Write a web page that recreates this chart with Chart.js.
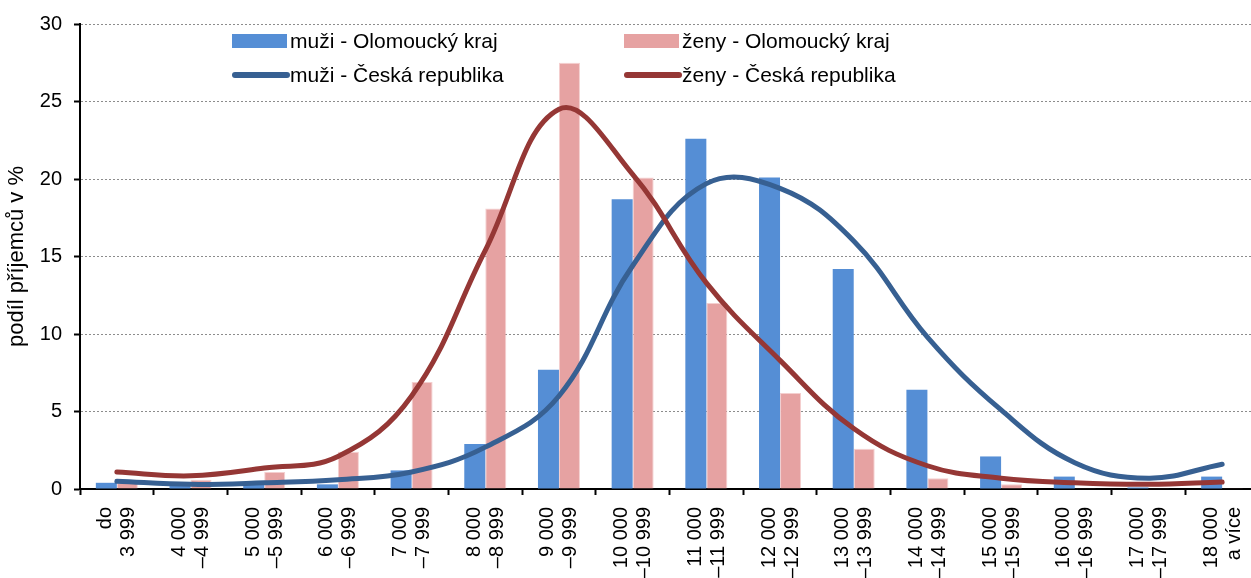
<!DOCTYPE html>
<html><head><meta charset="utf-8">
<script src="https://cdn.jsdelivr.net/npm/chart.js@4"></script>
<style>html,body{margin:0;padding:0;overflow:hidden;background:#fff}</style>
</head><body>
<canvas id="c" width="1262" height="578" style="display:block;width:1262px;height:578px"></canvas>
<script>
const categories = [
  ["do","3 999"],["4 000","–4 999"],["5 000","–5 999"],["6 000","–6 999"],
  ["7 000","–7 999"],["8 000","–8 999"],["9 000","–9 999"],["10 000","–10 999"],
  ["11 000","–11 999"],["12 000","–12 999"],["13 000","–13 999"],["14 000","–14 999"],
  ["15 000","–15 999"],["16 000","–16 999"],["17 000","–17 999"],["18 000","a více"]
];
const muziOlomouc = [0.4, 0.2, 0.3, 0.3, 1.2, 2.9, 7.7, 18.7, 22.6, 20.1, 14.2, 6.4, 2.1, 0.8, 0.1, 0.8];
const zenyOlomouc = [0.4, 0.6, 1.1, 2.4, 6.9, 18.1, 27.5, 20.1, 12.0, 6.2, 2.6, 0.7, 0.3, 0.05, 0.05, 0.05];
const muziCR = [0.5, 0.3, 0.4, 0.6, 1.1, 2.7, 6.0, 14.4, 19.7, 19.4, 16.0, 9.8, 5.1, 1.7, 0.7, 1.6];
const zenyCR = [1.1, 0.85, 1.35, 2.1, 6.0, 15.4, 24.5, 20.3, 13.3, 8.3, 3.9, 1.5, 0.7, 0.4, 0.3, 0.45];
const labels = ["muži - Olomoucký kraj", "ženy - Olomoucký kraj", "muži - Česká republika", "ženy - Česká republika"];
const yMin = 0, yMax = 30, yStep = 5;
const yTitle = "podíl příjemců v %";

Chart.defaults.font.family = "'Liberation Sans', Arial, sans-serif";
Chart.defaults.color = '#000';

const legendPlugin = {
  id: 'customLegend',
  afterDraw(chart) {
    const ctx = chart.ctx;
    const pos = [
      {x: 232, y: 41, kind: 'box'},
      {x: 624, y: 41, kind: 'box'},
      {x: 232, y: 75, kind: 'line'},
      {x: 624, y: 75, kind: 'line'}
    ];
    ctx.save();
    chart.data.datasets.forEach((ds, i) => {
      const p = pos[i];
      if (p.kind === 'box') {
        ctx.fillStyle = ds.backgroundColor;
        ctx.fillRect(p.x, p.y - 7, 55, 14);
      } else {
        ctx.strokeStyle = ds.borderColor;
        ctx.lineWidth = 6;
        ctx.lineCap = 'round';
        ctx.beginPath();
        ctx.moveTo(p.x + 3, p.y);
        ctx.lineTo(p.x + 55, p.y);
        ctx.stroke();
      }
      ctx.fillStyle = '#000';
      ctx.font = "21px 'Liberation Sans', Arial, sans-serif";
      ctx.textBaseline = 'middle';
      ctx.textAlign = 'left';
      ctx.fillText(ds.label, p.x + 58, p.y + 1);
    });
    ctx.restore();
  }
};

new Chart(document.getElementById('c').getContext('2d'), {
  type: 'bar',
  data: {
    labels: categories,
    datasets: [
      {type: 'bar', label: labels[0], data: muziOlomouc, backgroundColor: '#558ED5',
       barPercentage: 1, categoryPercentage: 0.57, order: 2},
      {type: 'bar', label: labels[1], data: zenyOlomouc, backgroundColor: '#E6A2A2',
       borderColor: 'rgba(236,175,175,0.6)', borderWidth: 1,
       barPercentage: 1, categoryPercentage: 0.57, order: 2},
      {type: 'line', label: labels[2], data: muziCR, borderColor: '#376092', borderWidth: 5,
       pointRadius: 0, tension: 0.4, fill: false, borderCapStyle: 'round', order: 1},
      {type: 'line', label: labels[3], data: zenyCR, borderColor: '#953735', borderWidth: 5,
       pointRadius: 0, tension: 0.4, fill: false, borderCapStyle: 'round', order: 0}
    ]
  },
  options: {
    responsive: false,
    animation: false,
    layout: {padding: {left: 0, right: 3, top: 23, bottom: 0}},
    plugins: {legend: {display: false}, tooltip: {enabled: false}},
    scales: {
      x: {
        grid: {display: true, drawOnChartArea: false, drawTicks: true, tickLength: 6,
               tickColor: '#000', tickWidth: 2, offset: true},
        border: {color: '#000', width: 2},
        ticks: {minRotation: 90, maxRotation: 90, autoSkip: false, font: {size: 20, lineHeight: 1.15},
                padding: 12, labelOffset: -11, color: '#000'},
        afterFit(s) { s.height = 89; s.paddingLeft = 0; s.paddingRight = 0; }
      },
      y: {
        min: yMin, max: yMax,
        ticks: {stepSize: yStep, font: {size: 20}, padding: 12, color: '#000'},
        grid: {color: (c) => c.tick && c.tick.value === 0 ? 'rgba(0,0,0,0)' : '#8c8c8c',
               lineWidth: 1, tickColor: '#000', tickLength: 6, tickWidth: 2},
        border: {color: '#000', width: 2, dash: [2, 2]},
        title: {display: true, text: yTitle, font: {size: 22}, color: '#000', padding: {top: 4, bottom: 0}},
        afterFit(s) { s.width = 80; }
      }
    }
  },
  plugins: [legendPlugin]
});
</script>
</body></html>
